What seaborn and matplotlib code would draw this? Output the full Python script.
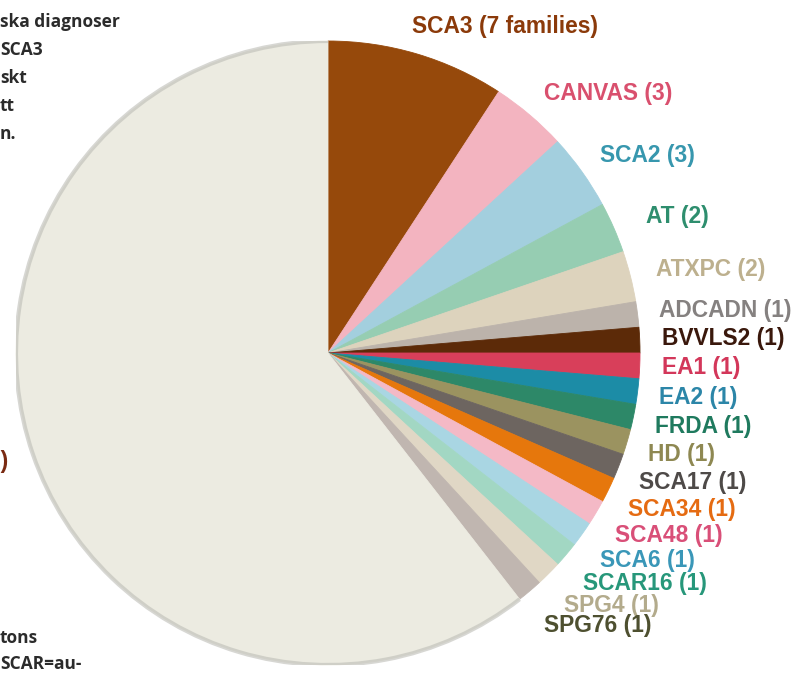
import numpy as np
import seaborn as sns
import matplotlib.pyplot as plt
from matplotlib.patches import Arc

# diagnoses, clockwise from 12 o'clock; last one is the unlabelled remainder
diagnoses = ["SCA3", "CANVAS", "SCA2", "AT", "ATXPC", "ADCADN", "BVVLS2", "EA1", "EA2",
             "FRDA", "HD", "SCA17", "SCA34", "SCA48", "SCA6", "SCAR16", "SPG4", "SPG76",
             "Ingen genetisk diagnos"]
families = [7, 3, 3, 2, 2, 1, 1, 1, 1, 1, 1, 1, 1, 1, 1, 1, 1, 1, 46]

slice_colors = ["#96490B", "#F3B4C0", "#A3CFDE", "#96CDB2", "#DDD3BD", "#BCB3AB", "#5C2A08",
                "#D83F5A", "#1C8CA6", "#2D8868", "#9B9360", "#6D6560", "#E6770C", "#F4B9C6",
                "#A9D6E3", "#A2D7C3", "#E0D7C5", "#C0B6B0", "#ECEBE1"]
label_colors = ["#8B3A0A", "#D9506E", "#3797AE", "#2E8E6E", "#BDB08E", "#858180", "#3A180C",
                "#D3375A", "#2C86A8", "#1F7A5E", "#8E8852", "#4E4A48", "#E56B12", "#D94F78",
                "#3A97B8", "#27977A", "#B3AB8C", "#4E5030", "#7A2A12"]

caption_top = ["ska diagnoser", "SCA3", "skt", "tt", "n."]
caption_bottom = ["tons", "SCAR=au-"]

sns.set_theme(style="white")
plt.rcParams["font.family"] = ["Liberation Sans", "DejaVu Sans"]

fig = plt.figure(figsize=(7.96, 6.75), dpi=100)
ax = fig.add_axes([16 / 796, 10 / 675, 624 / 796, 624 / 675])

wedges, _ = ax.pie(families, colors=slice_colors, startangle=90, counterclock=False,
                   wedgeprops=dict(linewidth=0.6))
for w in wedges:
    w.set_edgecolor(w.get_facecolor())
ax.set_xlim(-1, 1)
ax.set_ylim(-1, 1)
ax.set_aspect("equal")
ax.axis("off")

# soft grey rim along the big remainder slice
rest = wedges[-1]
ax.add_patch(Arc((0, 0), 2.0, 2.0, theta1=rest.theta1, theta2=rest.theta2,
                 color="#bdbdb6", lw=3, alpha=0.6))

# small hand nudges (axis units) for a few labels
nudge_x = {"SCA3": -0.035, "AT": 0.04, "ATXPC": 0.015, "Ingen genetisk diagnos": -0.014}

# labels placed outside the wedges
for i, (w, name, n) in enumerate(zip(wedges, diagnoses, families)):
    mid = np.deg2rad((w.theta1 + w.theta2) / 2)
    txt = f"{name} ({n} families)" if i == 0 else f"{name} ({n})"
    x = 1.07 * np.cos(mid) + nudge_x.get(name, 0)
    y = 1.07 * np.sin(mid)
    if i < len(diagnoses) - 1:
        if y < 0:
            y *= 1.07
        else:
            y *= 1.02
        ha = "left"
    else:
        ha = "right"
    ax.text(x, y, txt, ha=ha, va="center", fontsize=16.4, fontweight="bold",
            color=label_colors[i], clip_on=False)

# cut-off caption text at the left edge
cap_font = dict(ha="left", va="center", fontsize=12.5, fontweight="bold", color="#2b2b2b",
                family=["Open Sans", "Lato", "DejaVu Sans"])
for k, line in enumerate(caption_top):
    fig.text(0.0, 1 - (22 + 28 * k) / 675, line, **cap_font)
for k, line in enumerate(caption_bottom):
    fig.text(0.0, 1 - (638 + 26 * k) / 675, line, **cap_font)

fig.savefig("out.png", dpi=100)
